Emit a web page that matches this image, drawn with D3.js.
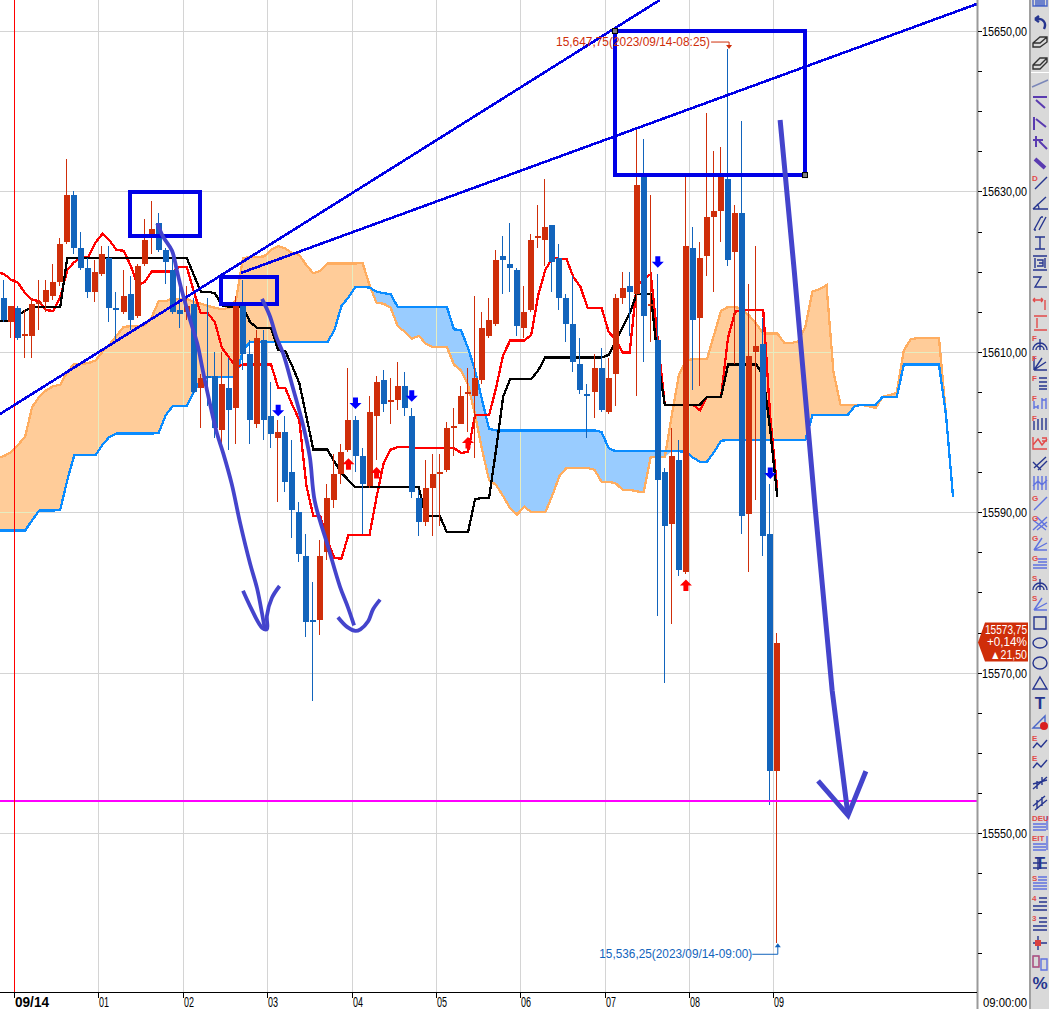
<!DOCTYPE html>
<html>
<head>
<meta charset="utf-8">
<script src="https://cdn.jsdelivr.net/npm/d3@7"></script>
<style>
  html, body { margin: 0; padding: 0; background: #fff; overflow: hidden; }
  svg { display: block; }
  text { font-family: "Liberation Sans", sans-serif; }
</style>
</head>
<body>
<div id="content"></div>
<script>
// 5 minute bars, bar 2 = 09/14 00:00, bar 110 = 09:00
const opens = [
  15616.75,15613.75,15615.5,15612,15612,15616,15616.25,15617,15618.75,15623.75,
  15629.5,15623,15620.5,15617.5,15619.75,15621.75,15615.5,15615,15617.25,15614.5,
  15621,15624.75,15626,15622.75,15620.25,15615.25,15615,15616,15605.5,15607,
  15607,15600.25,15605.5,15603,15615.75,15609.75,15601,15611.5,15602,15599.25,
  15600,15595,15590,15584.5,15576.5,15576.5,15585,15591.5,15594.75,15597.75,
  15601.5,15597,15593.25,15602,15606.5,15603.75,15604,15605.75,15602,15591.75,
  15588.75,15593,15594.75,15595.25,15600.5,15601,15604.75,15604.5,15606.5,15612,
  15613.5,15622,15621,15620.25,15613,15615.25,15624.25,15624,15625.75,15621.75,
  15616.75,15613.5,15608.5,15604.75,15605,15608,15602.5,15607.25,15616.75,15618.25,
  15617.25,15632,15615.75,15611.5,15595,15588.5,15596.5,15582.5,15623,15614.25,
  15622,15626.75,15627.5,15631.5,15622.5,15627.25,15589.75,15610,15611,15587.25,
  15557.75];
const closes = [
  15614,15615.75,15611.75,15612.25,15616,15616.25,15617.75,15618.75,15623.5,15629.5,
  15623,15620.5,15617.5,15620,15622.25,15615.5,15615.25,15617,15614,15620.75,
  15624,15625.25,15622.75,15621.25,15615,15614.75,15615.75,15605,15606.75,15606.75,
  15600.5,15606,15602.75,15615.75,15609.75,15601.5,15611.75,15601.5,15599.75,15600,
  15593.75,15590.25,15584.75,15576.25,15576.25,15584.5,15591.75,15594.75,15597.5,15601.5,
  15597,15593.5,15602.5,15606.25,15603.5,15604,15605.75,15603,15592.5,15588.75,
  15593,15594.75,15595,15600.5,15600.75,15604.5,15605,15606.75,15613,15614,
  15621.5,15621.5,15620.5,15613.25,15615,15624,15624.5,15625.5,15621.25,15616.75,
  15613.5,15608.75,15605.25,15604.5,15608,15602.75,15606.75,15616.75,15618,15617.5,
  15630.75,15614.5,15616,15594,15588.25,15597,15582.75,15623.25,15614,15621.75,
  15626.75,15627.5,15631.75,15621.5,15627.25,15589.5,15609.5,15610.75,15587,15557.75,
  15573.75];
const highs = [
  15619,15615.75,15615.75,15615.25,15616.75,15619,15619,15621,15624.25,15634,
  15630,15625,15621.75,15621.5,15623.25,15623.25,15617.5,15620.25,15619.5,15621,
  15626.5,15628.75,15627.25,15623,15621.75,15618.25,15618.25,15616.75,15607.25,15616.75,
  15610,15610,15609.25,15617,15619,15611.5,15612.75,15612.75,15606.25,15601.5,
  15602,15599,15591.25,15587.25,15581.25,15586.5,15593.5,15597.25,15598.5,15608,
  15602,15598,15604.5,15607,15607.75,15606.75,15608.75,15607.5,15603,15592.75,
  15596.5,15597.25,15597.25,15601.25,15603,15605.75,15608,15617,15615,15616.75,
  15622.75,15624.5,15626,15620.5,15618.25,15624.75,15628.25,15631.5,15625.75,15623.5,
  15617.25,15619.5,15611.75,15606,15609.75,15610.5,15609.25,15617.25,15620,15620,
  15638,15636.5,15629.5,15619.75,15595.5,15600.5,15599,15631.75,15625.5,15623.75,
  15639.75,15635,15635.5,15647.75,15628.25,15638.75,15618.5,15623.25,15614.25,15593.5,
  15575];
const lows = [
  15613.75,15611.75,15611.5,15609.25,15609.25,15612.75,15615,15616.5,15618.25,15623.5,
  15622.25,15620.25,15616.75,15616.25,15619.5,15613.75,15611.25,15614.75,15612.75,15614.25,
  15620.75,15622.25,15622.5,15618.5,15614.75,15613,15614,15604.75,15600.5,15603.25,
  15599.25,15597.5,15597.75,15598.5,15607.75,15598.5,15600.5,15599,15598,15591.25,
  15592.5,15586.75,15583.75,15574.5,15566.5,15574.75,15584,15590.5,15593.5,15597.5,
  15595,15587.25,15593,15596.5,15602.5,15601,15602.75,15602,15591.75,15587,
  15588.25,15587,15588.25,15595,15597,15601,15600,15596.75,15606,15611.75,
  15613.25,15617.25,15617.5,15612,15611.75,15615,15623,15620.75,15617.5,15615.25,
  15611.25,15607.5,15604.75,15599.25,15601.75,15602.5,15602.25,15603.25,15616,15612,
  15604.5,15608.75,15611.25,15577,15568.75,15576,15582,15582.25,15605.25,15605.75,
  15619.5,15617.5,15623.75,15620.75,15608.5,15587.25,15582.5,15591.5,15584.5,15553.5,
  15536.25];

// indicator series start one bar earlier than the candles (bar -1)
const tenkan = [15619.9,
  15619.7,15619,15618.6,15617.3,15616.5,15616.3,15615.2,15615.1,15616.8,15620.2,
  15621.2,15621.7,15621.8,15623.6,15624.7,15623.9,15622.7,15622.6,15620.8,15618.3,
  15618.7,15620,15620,15620,15620,15620.6,15620.6,15617.5,15614.8,15614.8,
  15613.7,15610.5,15609.3,15608.1,15608.4,15608.4,15608.4,15608.4,15608.4,15605.5,
  15605.5,15603.4,15601.5,15593.4,15589.5,15589.5,15586.5,15584.3,15584.2,15587.2,
  15587.2,15587.2,15587.2,15591.9,15596.1,15597.8,15598.1,15598.1,15598.1,15598,
  15598,15598,15598,15598,15598,15597.4,15597.5,15602.1,15602.1,15602.1,
  15605.5,15609.6,15611.4,15611.4,15611.4,15612.1,15617.1,15620.2,15621.7,15621.6,
  15621.6,15619.3,15618.1,15615.5,15615.5,15615.5,15612.5,15611.5,15609.9,15609.9,
  15618.3,15619,15619.7,15611.5,15603.4,15603.4,15603.4,15603.4,15603.4,15602.7,
  15604.4,15604.4,15604.4,15611.8,15615,15615.2,15615.2,15615.2,15615.2,15601.9,
  15592.8];
const kijun = [15613.8,
  15613.8,15613.8,15614.6,15615.1,15615.6,15615.6,15615.6,15615.6,15615.6,15621.7,
  15621.7,15621.7,15621.7,15621.7,15621.7,15621.7,15621.7,15621.7,15621.7,15621.7,
  15621.7,15621.7,15621.7,15621.7,15621.7,15621.7,15621.7,15619.6,15617.5,15617.5,
  15617.3,15615.8,15615.6,15615.6,15615.6,15613.7,15613,15613,15613,15610.2,
  15610.1,15608.2,15606.1,15602,15597.8,15597.8,15597.8,15596.3,15594.9,15594,
  15593.1,15593.1,15593.1,15593.1,15593.1,15593.1,15593.1,15593.1,15593.1,15593.1,
  15589.5,15589.5,15589.5,15587.5,15587.5,15587.5,15587.5,15591.6,15591.8,15591.8,
  15597.8,15604.4,15606.6,15606.6,15606.6,15606.6,15607.7,15609.3,15609.3,15609.3,
  15609.3,15609.3,15609.3,15609.3,15609.3,15609.3,15609.6,15611.2,15613.1,15614.8,
  15617.2,15617.2,15617.2,15609,15603.4,15603.4,15603.4,15603.4,15603.4,15603.4,
  15604.4,15604.4,15604.4,15608.4,15608.4,15608.4,15608.4,15608.4,15607.1,15600.2,
  15591.9];
const senkouA = [15596.7,
  15597,15597.5,15598.4,15599.4,15603.1,15604.4,15605.2,15605.7,15605.9,15607.5,
  15608.5,15608.5,15608.6,15608.9,15610,15610.9,15612,15613.1,15613.2,15613.2,
  15613.3,15614.3,15616.3,15616.3,15616.7,15616.5,15616.6,15616.2,15616,15615.7,
  15615.5,15615.3,15615.5,15616.5,15621.7,15621.8,15621.8,15621.9,15622.7,15623.2,
  15622.9,15622.3,15622.1,15620.8,15619.8,15620.1,15621,15621,15621,15621,
  15621,15621.1,15618.3,15616.1,15616,15615.5,15613.2,15612.5,15611.6,15612,
  15611,15610.6,15610.6,15610.6,15608.4,15607.7,15605.9,15602.2,15597.8,15594,
  15593.4,15592,15590.5,15589.7,15590.7,15590,15590,15590,15592.1,15594.5,
  15595.5,15595.5,15595.5,15595.5,15595.3,15593.8,15593.8,15593.6,15592.8,15592.8,
  15592.6,15592.5,15596.9,15596.9,15596.9,15602.1,15607.1,15608.9,15609.1,15609.1,
  15609.1,15612.1,15615.1,15615.6,15615.6,15615.3,15614.5,15613.5,15612.3,15612.3,
  15612.3,15611.1,15611.1,15611.3,15613.2,15617.5,15617.8,15618.3,15607.4,15603.4,
  15603.4,15603.4,15603.4,15603.2,15603,15604.4,15604.6,15604.9,15610.2,15611.6,
  15611.7,15611.7,15611.7,15611.7,15602.1];
const senkouB = [15587.7,
  15587.7,15587.7,15587.7,15587.7,15589,15590.2,15590.2,15590.2,15590.3,15594,
  15597.1,15597.1,15597.1,15597.1,15598.4,15599.4,15599.8,15599.8,15599.8,15599.8,
  15599.8,15599.8,15599.9,15602.1,15603.2,15603.2,15603.2,15605,15606.5,15606.9,
  15606.9,15606.9,15606.9,15606.9,15610.2,15611.2,15611.2,15611.2,15611.2,15611.2,
  15611.2,15611.2,15611.2,15611.2,15611.2,15611.2,15611.2,15612.7,15615.7,15616.8,
  15618.1,15618.1,15618,15617.5,15617.3,15617.2,15615.6,15615.6,15615.6,15615.6,
  15615.6,15615.6,15615.6,15615.6,15612.8,15612.7,15610.5,15607.7,15604,15600.4,
  15600.2,15600.2,15600.2,15600.2,15600.2,15600.2,15600.2,15600.2,15600.2,15600.2,
  15600.2,15600.2,15600.2,15600.2,15600.2,15600,15598,15597.6,15597.6,15597.6,
  15597.6,15597.6,15597.6,15597.6,15597.6,15597.6,15597.6,15597.5,15596.8,15596.3,
  15596.3,15597.5,15598.9,15599,15599,15599,15599,15599,15599,15599,
  15599,15599,15599,15599,15599,15602.1,15602.1,15602.1,15602.1,15602.1,
  15602.1,15603.2,15603.4,15603.4,15603.4,15604.4,15604.4,15604.4,15608.4,15608.4,
  15608.4,15608.4,15608.4,15608.4,15602.1,15591.9];

const hourBars = [2, 14, 26, 38, 50, 62, 74, 86, 98, 110];
const hourLabels = ['09/14', '01', '02', '03', '04', '05', '06', '07', '08', '09'];
const priceTicks = [15650, 15630, 15610, 15590, 15570, 15550];
const minorTicks = d3.range(15535, 15655, 5);
const supportPrice = 15554;

// signal arrows: [bar, price]
const sellSignals = [[39, 15602.6], [50, 15603.5], [58, 15604.4], [93, 15621.1], [109, 15594.75]];
const buySignals = [[49, 15596.1], [53, 15595], [66, 15598.75], [97, 15581]];

// hand drawn analysis, [bar, price]
const trendLines = [
  [[-0.57, 15602.24], [93.3, 15653.87]],
  [[33.7, 15619.83], [138.4, 15653.37]],
];
const boxes = [
  [[17.92, 15629.92], [27.88, 15624.44]],
  [[30.87, 15619.33], [38.83, 15615.96]],
  [[86.91, 15650], [113.94, 15632.04]],
];
const strokesThin = [
  [[21.8,15626],[22.6,15624.4],[23.9,15622.6],[24.6,15620.1],[25.3,15617.6],[26.5,15613.9],
   [27.5,15611],[28.3,15607.6],[29.3,15603.5],[30.3,15599.8],[31.2,15597.3],[32.4,15593.5],
   [33.6,15588.6],[35,15583.6],[36,15580.5],[36.7,15577.4],[37.1,15575.4]],
  [[34,15580.2],[35,15578.3],[36.7,15575.6],[37.4,15575.4],[37.4,15577.1],[38.1,15579.3],[39.2,15580.8]],
  [[36.7,15616.6],[37.8,15614.5],[38.8,15611.7],[39.7,15609.8],[41.1,15605.5],[42.5,15601],
   [43.5,15596.9],[44.2,15591.4],[46.1,15585.7],[47.8,15580.7],[48.9,15578.2],[49.8,15575.9]],
  [[47.5,15576.9],[48.8,15575.7],[50,15575.2],[50.7,15575.4],[51.8,15576.4],[52.5,15577.9],[53.5,15579.1]],
];
const strokesThick = [
  [[110.4,15638.9],[112.4,15620.2],[115.4,15590.4],[117.8,15567.8],[120.06,15552.2]],
  [[115.8,15556.5],[120.06,15552.2],[122.6,15557.7]],
];

const lowNote = '15,536,25(2023/09/14-09:00)';
const highNote = '15,647,75(2023/09/14-08:25)';
const lastTag = ['15573,75', '+0,14%', '▲21,50'];
const lastTagWidths = [42, 40, 37];

// toolbar buttons, one every 20px: [red letter, path, colour, stroke width]
const NAVY = '#26358f', LBLUE = '#5f72e0', TRED = '#e24a4a', PENCIL = '#5a3bb0';
const toolIcons = [
  ['', 'M-7-4H7V3H-7Z M-5-2H5 M-5 0H5 M-5 2H5', '#4a66c8'],
  ['', 'M4 6C7 0 3-5-3-4 M-5-4L-1-7 M-5-4L-1-1', NAVY, 2.4],
  ['', 'M-7 0L0-6H7V-1L0 4H-7Z M-7 0H0L7-6', '#333'],
  ['', 'M-7 2L0-5H7V-1L0 6H-7Z M-7 2H0L7-5', '#333'],
  ['', 'M-8 4L8-3', '#7a86b8'],
  ['', 'M-7-6H7 M-4-3L5 5', PENCIL, 2],
  ['', 'M-6-6V7 M-4-4L6 4', PENCIL, 2],
  ['', 'M-7-3H3 M-4-7V4 M-1-2L7 6', PENCIL, 2],
  ['', 'M-5-4L5 5', PENCIL, 4],
  ['D', 'M-5 6L7-6', NAVY],
  ['', 'M-7 6H8 M-7 6L6-6 M-1 6C-1 3-2 2-3 1', NAVY],
  ['', 'M-6 7L1-6 M-1 7L6-6 M-6 7H-4 M1-6H3', NAVY],
  ['', 'M-5-6H5 M0-6V6 M-5 6H5', NAVY],
  ['', 'M-7-7H7 M-7 7H7 M-5-5V5 M5-5V5 M-3-3H3V3H-3 M-1 0H3', NAVY],
  ['', 'M-7-6H1L-5 4H7', NAVY],
  ['', 'M-7-3H3 M-7-3L-5-5 M-7-3L-5-1 M3-3L1-5 M3-3L1-1 M5-3V7', TRED],
  ['', 'M-6-7H7 M-6 7H7 M-3-5V5', TRED],
  ['F', 'M-7 7A7 7 0 0 1 7 7 M0 7V-4 M-4 7A4 4 0 0 1 4 7', NAVY],
  ['F', 'M-6 7H7 M-6 7L6-1 M-6 7L2-5 M-6 7V-6', NAVY],
  ['F', 'M-1-5H7 M-1-1H7 M-1 3H7 M-1 6H7', NAVY],
  ['F', 'M-6 6V-2 M-2 6V2 M2 6V-5 M6 6V-5 M-6 4H-2 M2-3H6', LBLUE],
  ['F', 'M-6 7V-2 M-2 7V-4 M2 7V-5 M6 7V-5', NAVY],
  ['', 'M-7-6V6H7 M-7 2L-2-4L2 2L7-4 M2-5H7 M2-2H7', TRED],
  ['', 'M-6 5L6-6 M-2 7L7-2 M-7-1L1 7', NAVY],
  ['', 'M-6-7V7 M-2-7V7 M2-7V7 M6-7V7 M-7 3L-2-2L2 2L7-3', LBLUE],
  ['G', 'M-6 7L7-6', LBLUE],
  ['G', 'M-7 7L7-6 M-7-3L6 7 M-3 7L7-1 M-3-6L7 4', LBLUE],
  ['G', 'M-6 7H7 M-6 7L7 0 M-6 7L2-5', LBLUE],
  ['G', 'M-2-4H7 M-2-1H7 M-7 2H7 M-7 5H7', LBLUE],
  ['S', 'M-7 7A7 7 0 0 1 7 7 M0 7V-4 M-4 7A4 4 0 0 1 4 7', NAVY],
  ['S', 'M-6 7H7 M-6 7L7 0 M-6 7L2-5', LBLUE],
  ['', 'M-6-6H6V6H-6Z', NAVY],
  ['', 'M-7 0A7 5 0 1 0 7 0A7 5 0 1 0-7 0', NAVY],
  ['', 'M-7 0A7 6 0 1 0 7 0A7 6 0 1 0-7 0', NAVY],
  ['', 'M0-6L7 6H-7Z', NAVY],
  ['T', '', NAVY],
  ['', 'M-7 5L5-7V5Z', '#4a66c8'],
  ['E', 'M-7 5L-3 0L1 4L7-3', NAVY],
  ['E', 'M-7 5L-3 0L1 4L7-3', NAVY],
  ['', 'M-7 6L7-6 M-3-2V6 M2-6V2 M-7 1L7-3', NAVY],
  ['', 'M-7 3L5-7 M-5 7L7-3 M-3-3V6 M2-6V3', NAVY],
  ['DEU', 'M-7 1H6 M-7 4H6 M-7 7H6 M7-7V7', LBLUE],
  ['EIT', 'M-7 1H6 M-7 4H6 M-7 7H6 M7-7V7', LBLUE],
  ['T', 'M-7 0H7 M-7 5H7 M-2-6V7', NAVY],
  ['S', 'M-2-6H7 M-2-3H7 M-7 0H7 M-7 3H7 M-7 6H7', LBLUE],
  ['4', 'M-1-5H7 M-1-1H7 M-7 3H7 M-7 7H7', NAVY],
  ['3', 'M-1-5H7 M-1-1H7 M-7 3H7 M-7 7H7', NAVY],
  ['', 'M-2-7V7 M-7 0H7', NAVY],
  ['', 'M-7-7H-1V4H-7Z M1-4H7V7H1Z', LBLUE],
  ['%', '', NAVY],
];
const bigGlyphs = ['T', '%'];

const width = 1049, height = 1009;
const chartRight = 977, chartBottom = 992.5;
const candleColor = { up: '#cf2e0a', down: '#1264bc' };

const x = d3.scaleLinear().domain([0, 110]).range([4, 777.3]);
const y = d3.scaleLinear().domain([15550, 15650]).range([833, 31]);
const gridX = bar => Math.floor(x(bar) - 3.5) + 0.5;
const gridY = price => Math.round(y(price)) + 0.5;

const svg = d3.select('#content').append('svg')
  .attr('width', width).attr('height', height);

const drawGrid = g => {
  g.selectAll('line.v').data(hourBars).join('line').attr('class', 'v')
    .attr('x1', gridX).attr('x2', gridX).attr('y1', 0).attr('y2', chartBottom);
  g.selectAll('line.h').data(priceTicks).join('line').attr('class', 'h')
    .attr('x1', 0).attr('x2', chartRight).attr('y1', gridY).attr('y2', gridY);
};
svg.append('g').attr('stroke', '#d4d4d4').attr('shape-rendering', 'crispEdges').call(drawGrid);

// cloud fills
const cloud = senkouB.map((b, i) => ({ bar: i - 1, b, a: i < senkouA.length ? senkouA[i] : b }));
const orangeArea = d3.area().x(d => x(d.bar)).y0(d => y(Math.min(d.a, d.b))).y1(d => y(d.a));
const blueArea = d3.area().x(d => x(d.bar)).y0(d => y(Math.min(d.a, d.b))).y1(d => y(d.b));
svg.append('path').attr('d', orangeArea(cloud)).attr('fill', '#ffcc99');
svg.append('path').attr('d', blueArea(cloud)).attr('fill', '#99ccff');

// the grid shows pale through the cloud
const clip = svg.append('defs').append('clipPath').attr('id', 'cloudClip');
clip.append('path').attr('d', orangeArea(cloud));
clip.append('path').attr('d', blueArea(cloud));
svg.append('g').attr('clip-path', 'url(#cloudClip)')
  .attr('stroke', '#e6ecc0').attr('shape-rendering', 'crispEdges').call(drawGrid);

const seriesLine = d3.line().x((d, i) => x(i - 1)).y(d => y(d));
const drawSeries = (data, color) => svg.append('path').attr('d', seriesLine(data))
  .attr('fill', 'none').attr('stroke', color).attr('stroke-width', 2.3)
  .attr('shape-rendering', 'crispEdges');
drawSeries(senkouA, '#ffad60');
drawSeries(senkouB, '#0a8cff');
drawSeries(tenkan, '#ff0000');
drawSeries(kijun, '#000000');

// candles
const bars = opens.map((o, i) => ({ i, o, c: closes[i], h: highs[i], l: lows[i] }));
const barLeft = d => Math.round(x(d.i) - 3);
const barColor = d => d.c >= d.o ? candleColor.up : candleColor.down;
const candles = svg.append('g').attr('shape-rendering', 'crispEdges');
candles.selectAll('rect.wick').data(bars).join('rect').attr('class', 'wick')
  .attr('x', d => barLeft(d) + 2).attr('width', 1)
  .attr('y', d => y(d.h)).attr('height', d => y(d.l) - y(d.h))
  .attr('fill', barColor);
candles.selectAll('rect.body').data(bars).join('rect').attr('class', 'body')
  .attr('x', barLeft).attr('width', 6)
  .attr('y', d => y(Math.max(d.o, d.c)))
  .attr('height', d => Math.max(1.5, Math.abs(y(d.o) - y(d.c))))
  .attr('fill', barColor);

// buy / sell arrows
const arrowPath = 'M-2.5-6.5H2.5V-1H6L0 5L-6-1H-2.5Z';
svg.selectAll('path.sell').data(sellSignals).join('path').attr('class', 'sell')
  .attr('d', arrowPath).attr('fill', '#0000ff')
  .attr('transform', d => `translate(${x(d[0])},${y(d[1])})`);
svg.selectAll('path.buy').data(buySignals).join('path').attr('class', 'buy')
  .attr('d', arrowPath).attr('fill', '#ff0000')
  .attr('transform', d => `translate(${x(d[0])},${y(d[1])}) rotate(180)`);

// support level and session start
svg.append('line').attr('x1', 0).attr('x2', chartRight)
  .attr('y1', y(supportPrice)).attr('y2', y(supportPrice))
  .attr('stroke', '#ff00ff').attr('stroke-width', 2);
svg.append('line').attr('x1', gridX(2)).attr('x2', gridX(2)).attr('y1', 0).attr('y2', chartBottom)
  .attr('stroke', '#ff0000').attr('shape-rendering', 'crispEdges');

// drawn objects
const drawn = d3.line().x(d => x(d[0])).y(d => y(d[1]));
svg.selectAll('path.trend').data(trendLines).join('path').attr('class', 'trend')
  .attr('d', drawn).attr('stroke', '#0000e6').attr('stroke-width', 2.6).attr('fill', 'none')
  .attr('shape-rendering', 'crispEdges');
svg.selectAll('rect.box').data(boxes).join('rect').attr('class', 'box')
  .attr('x', d => x(d[0][0])).attr('y', d => y(d[0][1]))
  .attr('width', d => x(d[1][0]) - x(d[0][0])).attr('height', d => y(d[1][1]) - y(d[0][1]))
  .attr('fill', 'none').attr('stroke', '#0000e6').attr('stroke-width', 4.5)
  .attr('shape-rendering', 'crispEdges');
svg.selectAll('rect.handle').data(boxes[2]).join('rect').attr('class', 'handle')
  .attr('x', d => x(d[0]) - 2.5).attr('y', d => y(d[1]) - 2.5).attr('width', 5).attr('height', 5)
  .attr('fill', '#808080').attr('stroke', '#000').attr('stroke-width', 1);
const handDrawn = d3.line().x(d => x(d[0])).y(d => y(d[1])).curve(d3.curveCatmullRom);
svg.selectAll('path.thin').data(strokesThin).join('path').attr('class', 'thin')
  .attr('d', handDrawn).attr('fill', 'none').attr('stroke', '#4444cc').attr('stroke-width', 3.8);
svg.selectAll('path.thick').data(strokesThick).join('path').attr('class', 'thick')
  .attr('d', drawn).attr('fill', 'none').attr('stroke', '#4444cc').attr('stroke-width', 5);

// high / low notes
const noteFont = 13;
const highX = x(103), lowX = x(110);
const highY = y(15647.75), lowY = y(15536.25);
svg.append('text').attr('x', highX - 172).attr('y', highY - 3)
  .attr('textLength', 154).attr('lengthAdjust', 'spacingAndGlyphs')
  .attr('font-size', noteFont).attr('fill', '#cf2e0a').text(highNote);
svg.append('path').attr('d', `M${highX - 17},${highY - 7}H${highX + 1}V${highY - 2}`)
  .attr('fill', 'none').attr('stroke', '#cf2e0a');
svg.append('path').attr('d', `M${highX - 2},${highY - 4}H${highX + 4}L${highX + 1},${highY}Z`)
  .attr('fill', '#cf2e0a');
svg.append('text').attr('x', lowX - 178).attr('y', lowY + 15)
  .attr('textLength', 153).attr('lengthAdjust', 'spacingAndGlyphs')
  .attr('font-size', noteFont).attr('fill', '#1264bc').text(lowNote);
svg.append('path').attr('d', `M${lowX - 25},${lowY + 11}H${lowX + 0.5}V${lowY + 2}`)
  .attr('fill', 'none').attr('stroke', '#1264bc');
svg.append('path').attr('d', `M${lowX - 2.5},${lowY + 4}H${lowX + 3.5}L${lowX + 0.5},${lowY}Z`)
  .attr('fill', '#1264bc');

// right axis
svg.append('rect').attr('x', chartRight - 0.5).attr('y', 0).attr('width', 2).attr('height', height)
  .attr('fill', '#9a9a9a');
const axisRight = d3.axisRight(y).tickValues(minorTicks).tickSize(3.5).tickFormat('');
const yAxis = svg.append('g').attr('transform', `translate(${chartRight + 1},0)`).call(axisRight);
yAxis.select('.domain').remove();
yAxis.selectAll('line').attr('stroke', '#000').attr('shape-rendering', 'crispEdges');
svg.selectAll('text.price').data(priceTicks).join('text').attr('class', 'price')
  .attr('x', chartRight + 5).attr('y', d => y(d) + 5)
  .attr('textLength', 45).attr('lengthAdjust', 'spacingAndGlyphs')
  .attr('font-size', 12.5).attr('fill', '#000')
  .text(d => d3.format('.2f')(d).replace('.', ','));

// time axis
svg.append('line').attr('x1', 0).attr('x2', chartRight).attr('y1', chartBottom).attr('y2', chartBottom)
  .attr('stroke', '#000').attr('shape-rendering', 'crispEdges');
svg.selectAll('line.hourTick').data(hourBars).join('line').attr('class', 'hourTick')
  .attr('x1', gridX).attr('x2', gridX).attr('y1', chartBottom).attr('y2', chartBottom + 5)
  .attr('stroke', '#000').attr('shape-rendering', 'crispEdges');
svg.selectAll('text.hour').data(hourLabels).join('text').attr('class', 'hour')
  .attr('x', (d, i) => gridX(hourBars[i]) + 0.5).attr('y', 1007)
  .attr('textLength', (d, i) => i === 0 ? 34 : 10).attr('lengthAdjust', 'spacingAndGlyphs')
  .attr('font-size', 14).attr('font-weight', (d, i) => i === 0 ? 'bold' : 'normal')
  .attr('fill', '#000').text(d => d);
svg.append('text').attr('x', chartRight + 6).attr('y', 1007).attr('font-size', 12.5)
  .attr('textLength', 44).attr('lengthAdjust', 'spacingAndGlyphs')
  .attr('fill', '#000').text('09:00:00');

// last price tag
const tagY = y(closes[closes.length - 1]);
svg.append('path')
  .attr('d', `M978,${tagY}L985,${tagY - 20}H1028V${tagY + 19}H985Z`)
  .attr('fill', '#cf2e0a');
svg.selectAll('text.tag').data(lastTag).join('text').attr('class', 'tag')
  .attr('x', (d, i) => 1027 - lastTagWidths[i]).attr('y', (d, i) => tagY - 9 + i * 12.7)
  .attr('textLength', (d, i) => lastTagWidths[i]).attr('lengthAdjust', 'spacingAndGlyphs')
  .attr('font-size', 12).attr('fill', '#fff').text(d => d);

// toolbar
svg.append('rect').attr('x', 1029).attr('y', 0).attr('width', 20).attr('height', height).attr('fill', '#d9d9d9');
svg.append('rect').attr('x', 1029).attr('y', 0).attr('width', 2).attr('height', height).attr('fill', '#a0a0a0');
svg.append('rect').attr('x', 1031).attr('y', 72).attr('width', 18).attr('height', 1).attr('fill', '#fff');
const tool = svg.selectAll('g.tool').data(toolIcons).join('g').attr('class', 'tool')
  .attr('transform', (d, i) => `translate(1040,${3 + i * 20})`);
tool.append('path').attr('d', d => d[1]).attr('fill', 'none')
  .attr('stroke', d => d[2]).attr('stroke-width', d => d[3] || 1.4);
tool.append('text')
  .attr('x', d => bigGlyphs.includes(d[0]) ? 0 : -8)
  .attr('y', d => bigGlyphs.includes(d[0]) ? 6 : -2)
  .attr('text-anchor', d => bigGlyphs.includes(d[0]) ? 'middle' : 'start')
  .attr('font-size', d => bigGlyphs.includes(d[0]) ? 17 : 8)
  .attr('font-weight', 'bold')
  .attr('fill', d => bigGlyphs.includes(d[0]) ? NAVY : TRED)
  .text(d => d[0]);
tool.filter((d, i) => i === 36).append('circle').attr('cx', 4).attr('cy', 3).attr('r', 4).attr('fill', '#d92020');
tool.filter((d, i) => i === 47).append('rect').attr('x', -5).attr('y', -3).attr('width', 6).attr('height', 6).attr('fill', '#d84040');
tool.filter((d, i) => i === 48).append('rect').attr('x', -7).attr('y', -7).attr('width', 6).attr('height', 11).attr('fill', 'none').attr('stroke', TRED);
</script>
</body>
</html>
